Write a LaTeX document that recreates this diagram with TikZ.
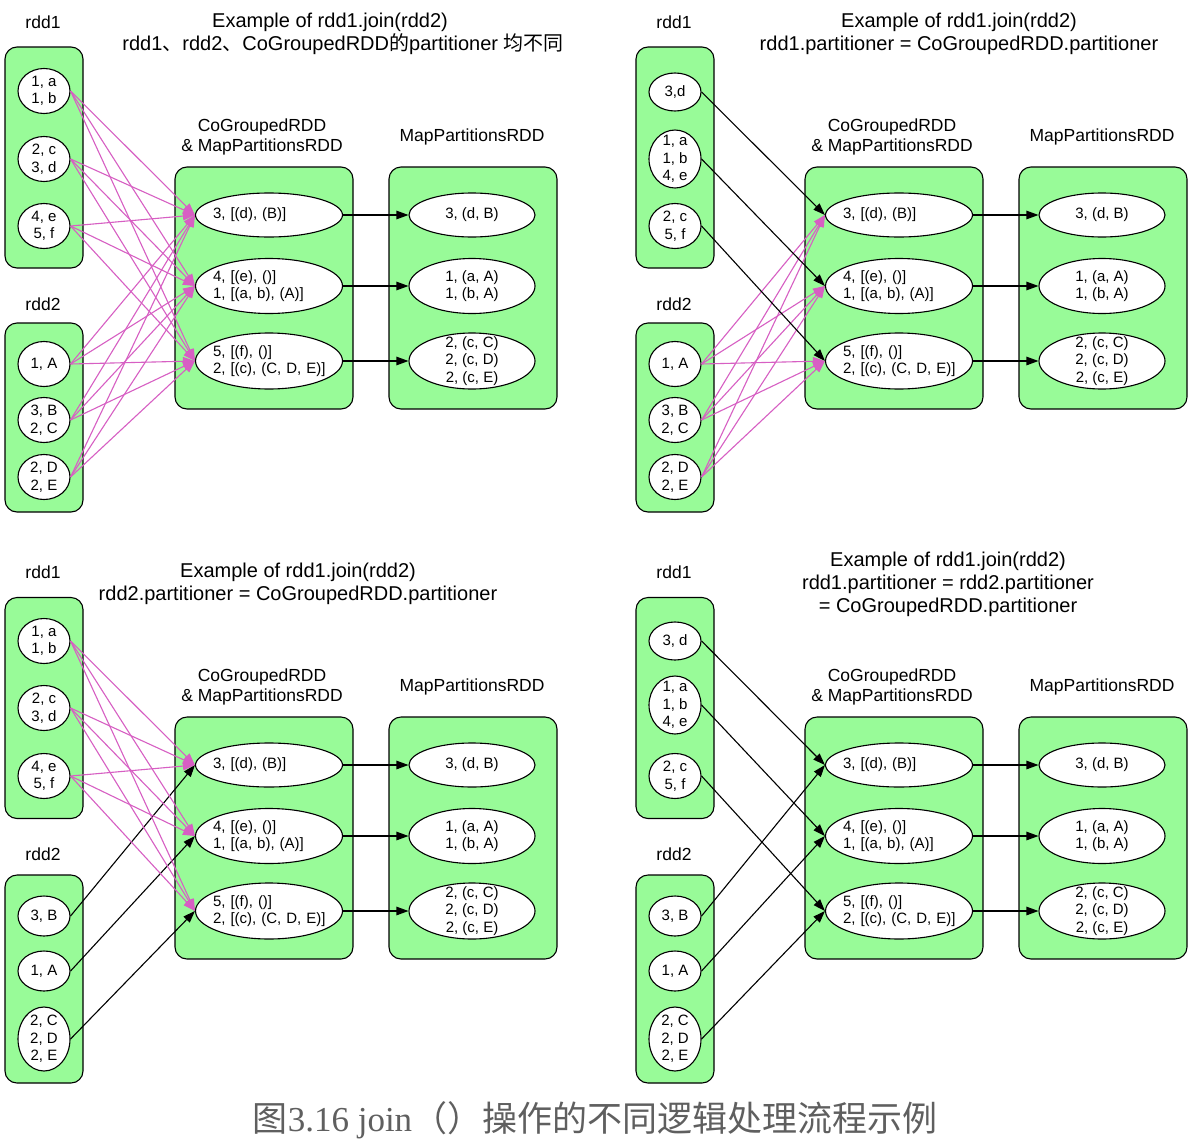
\documentclass[tikz,border=0pt]{standalone}
\usepackage{fontspec}
\setmainfont{Liberation Sans}
\newfontfamily\cjk{Noto Sans CJK SC}
\newfontfamily\capfont{Liberation Serif}
\usepackage{tikz}
\usetikzlibrary{arrows.meta,shapes.geometric}
\definecolor{grpgreen}{RGB}{152,251,152}
\definecolor{shufpink}{RGB}{215,95,195}
\definecolor{capgray}{RGB}{95,95,95}

\begin{document}
\begin{tikzpicture}[x=1pt,y=-1pt,>={Triangle[length=12pt,width=8.5pt]},line width=1.1pt,
    grp/.style={draw,fill=grpgreen,rounded corners=12pt,inner sep=0pt},
    part/.style={ellipse,draw,fill=white,inner sep=-6pt,minimum width=52pt,minimum height=45pt,
      align=center,font=\fontsize{15}{17.5}\selectfont},
    cog/.style={part,minimum width=147pt,minimum height=44pt,text width=112pt,align=left},
    mpe/.style={part,minimum width=126pt,minimum height=44pt},
    lbl/.style={font=\fontsize{17.5}{20}\selectfont,align=center},
    ttl/.style={font=\fontsize{20}{23}\selectfont,align=center},
    narrow/.style={->,black},
    shuf/.style={->,shufpink}]
  \fill[white] (0,0) rectangle (1204,1143);
  \useasboundingbox (0,0) rectangle (1204,1143);

  % CoGroupedRDD and MapPartitionsRDD, the same in all four examples
  \foreach \p/\dx/\dy in {a/0/0,b/630/0,c/0/550,d/630/550}{
    \begin{scope}[shift={(\dx,\dy)}]
      \node[lbl] (\p cohead) at (262,137) {CoGroupedRDD\\\& MapPartitionsRDD};
      \node[lbl] (\p mphead) at (472,137) {MapPartitionsRDD};
      \node[grp,minimum width=178pt,minimum height=242pt] (\p cobox) at (264,288) {};
      \node[grp,minimum width=168pt,minimum height=242pt] (\p mpbox) at (473,288) {};
      \node[cog] (\p c1) at (269,215) {3, [(d), (B)]};
      \node[cog,minimum height=55pt] (\p c2) at (269,286) {4, [(e), ()]\\1, [(a, b), (A)]};
      \node[cog,minimum height=56pt] (\p c3) at (269,361) {5, [(f), ()]\\\mbox{2, [(c), (C, D, E)]}};
      \node[mpe] (\p m1) at (472,215) {3, (d, B)};
      \node[mpe,minimum height=55pt] (\p m2) at (472,286) {1, (a, A)\\1, (b, A)};
      \node[mpe,minimum height=56pt] (\p m3) at (472,361) {2, (c, C)\\2, (c, D)\\2, (c, E)};
      \foreach \i in {1,2,3}
        \path[narrow] (\p c\i) edge (\p m\i);
    \end{scope}
  }

  % all partitioners different
  \node[ttl] (attl) at (343,34) {\hspace*{-26pt}Example of rdd1.join(rdd2)\\rdd1{\cjk 、}rdd2{\cjk 、}CoGroupedRDD{\cjk 的}partitioner {\cjk 均不同}};
  \node[lbl] (ar1lbl) at (43,22) {rdd1};
  \node[grp,minimum width=78pt,minimum height=221pt] (ar1box) at (44,157.5) {};
  \node[part] (a11) at (44,91) {1, a\\1, b};
  \node[part] (a12) at (44,159) {2, c\\3, d};
  \node[part] (a13) at (44,226) {4, e\\5, f};
  \node[lbl] (ar2lbl) at (43,304) {rdd2};
  \node[grp,minimum width=78pt,minimum height=189pt] (ar2box) at (44,417.5) {};
  \node[part] (a21) at (44,364) {1, A};
  \node[part] (a22) at (44,420) {3, B\\2, C};
  \node[part] (a23) at (44,477) {2, D\\2, E};
  \foreach \s in {1,2,3}
    \foreach \t in {1,2,3} {
      \path[shuf] (a1\s.east) edge (ac\t.west);
      \path[shuf] (a2\s.east) edge (ac\t.west);
    }

  % rdd1 partitioner kept
  \begin{scope}[shift={(630,0)}]
    \node[ttl] (bttl) at (329,34) {Example of rdd1.join(rdd2)\\rdd1.partitioner = CoGroupedRDD.partitioner};
    \node[lbl] (br1lbl) at (44,22) {rdd1};
    \node[grp,minimum width=78pt,minimum height=221pt] (br1box) at (45,157.5) {};
    \node[part,minimum height=38pt] (b11) at (45,92) {3,d};
    \node[part,minimum height=58pt] (b12) at (45,159) {1, a\\1, b\\4, e};
    \node[part] (b13) at (45,226) {2, c\\5, f};
    \node[lbl] (br2lbl) at (44,304) {rdd2};
    \node[grp,minimum width=78pt,minimum height=189pt] (br2box) at (45,417.5) {};
    \node[part] (b21) at (45,364) {1, A};
    \node[part] (b22) at (45,420) {3, B\\2, C};
    \node[part] (b23) at (45,477) {2, D\\2, E};
  \end{scope}
  \foreach \t in {1,2,3} {
    \path[narrow] (b1\t.east) edge (bc\t.west);
    \foreach \s in {1,2,3}
      \path[shuf] (b2\s.east) edge (bc\t.west);
  }

  % rdd2 partitioner kept
  \begin{scope}[shift={(0,550)}]
    \node[ttl] (cttl) at (298,34) {Example of rdd1.join(rdd2)\\rdd2.partitioner = CoGroupedRDD.partitioner};
    \node[lbl] (cr1lbl) at (43,22) {rdd1};
    \node[grp,minimum width=78pt,minimum height=221pt] (cr1box) at (44,158) {};
    \node[part] (c11) at (44,91) {1, a\\1, b};
    \node[part] (c12) at (44,158) {2, c\\3, d};
    \node[part] (c13) at (44,226) {4, e\\5, f};
    \node[lbl] (cr2lbl) at (43,304) {rdd2};
    \node[grp,minimum width=78pt,minimum height=208pt] (cr2box) at (44,429) {};
    \node[part,minimum height=40pt] (c21) at (44,366) {3, B};
    \node[part,minimum height=40pt] (c22) at (44,421) {1, A};
    \node[part,minimum height=64pt] (c23) at (44,489) {2, C\\2, D\\2, E};
  \end{scope}
  \foreach \t in {1,2,3} {
    \path[narrow] (c2\t.east) edge (cc\t.west);
    \foreach \s in {1,2,3}
      \path[shuf] (c1\s.east) edge (cc\t.west);
  }

  % both partitioners kept
  \begin{scope}[shift={(630,550)}]
    \node[ttl] (dttl) at (318,34) {Example of rdd1.join(rdd2)\\rdd1.partitioner = rdd2.partitioner\\= CoGroupedRDD.partitioner};
    \node[lbl] (dr1lbl) at (44,22) {rdd1};
    \node[grp,minimum width=78pt,minimum height=221pt] (dr1box) at (45,158) {};
    \node[part,minimum height=38pt] (d11) at (45,91) {3, d};
    \node[part,minimum height=58pt] (d12) at (45,155) {1, a\\1, b\\4, e};
    \node[part] (d13) at (45,226) {2, c\\5, f};
    \node[lbl] (dr2lbl) at (44,304) {rdd2};
    \node[grp,minimum width=78pt,minimum height=208pt] (dr2box) at (45,429) {};
    \node[part,minimum height=40pt] (d21) at (45,366) {3, B};
    \node[part,minimum height=40pt] (d22) at (45,421) {1, A};
    \node[part,minimum height=64pt] (d23) at (45,489) {2, C\\2, D\\2, E};
  \end{scope}
  \foreach \t in {1,2,3} {
    \path[narrow] (d1\t.east) edge (dc\t.west);
    \path[narrow] (d2\t.east) edge (dc\t.west);
  }

  \node[font=\fontsize{35}{40}\selectfont,text=capgray] (cap) at (595,1120)
    {{\cjk 图}{\capfont 3.16 join}{\cjk （）操作的不同逻辑处理流程示例}};
\end{tikzpicture}
\end{document}
